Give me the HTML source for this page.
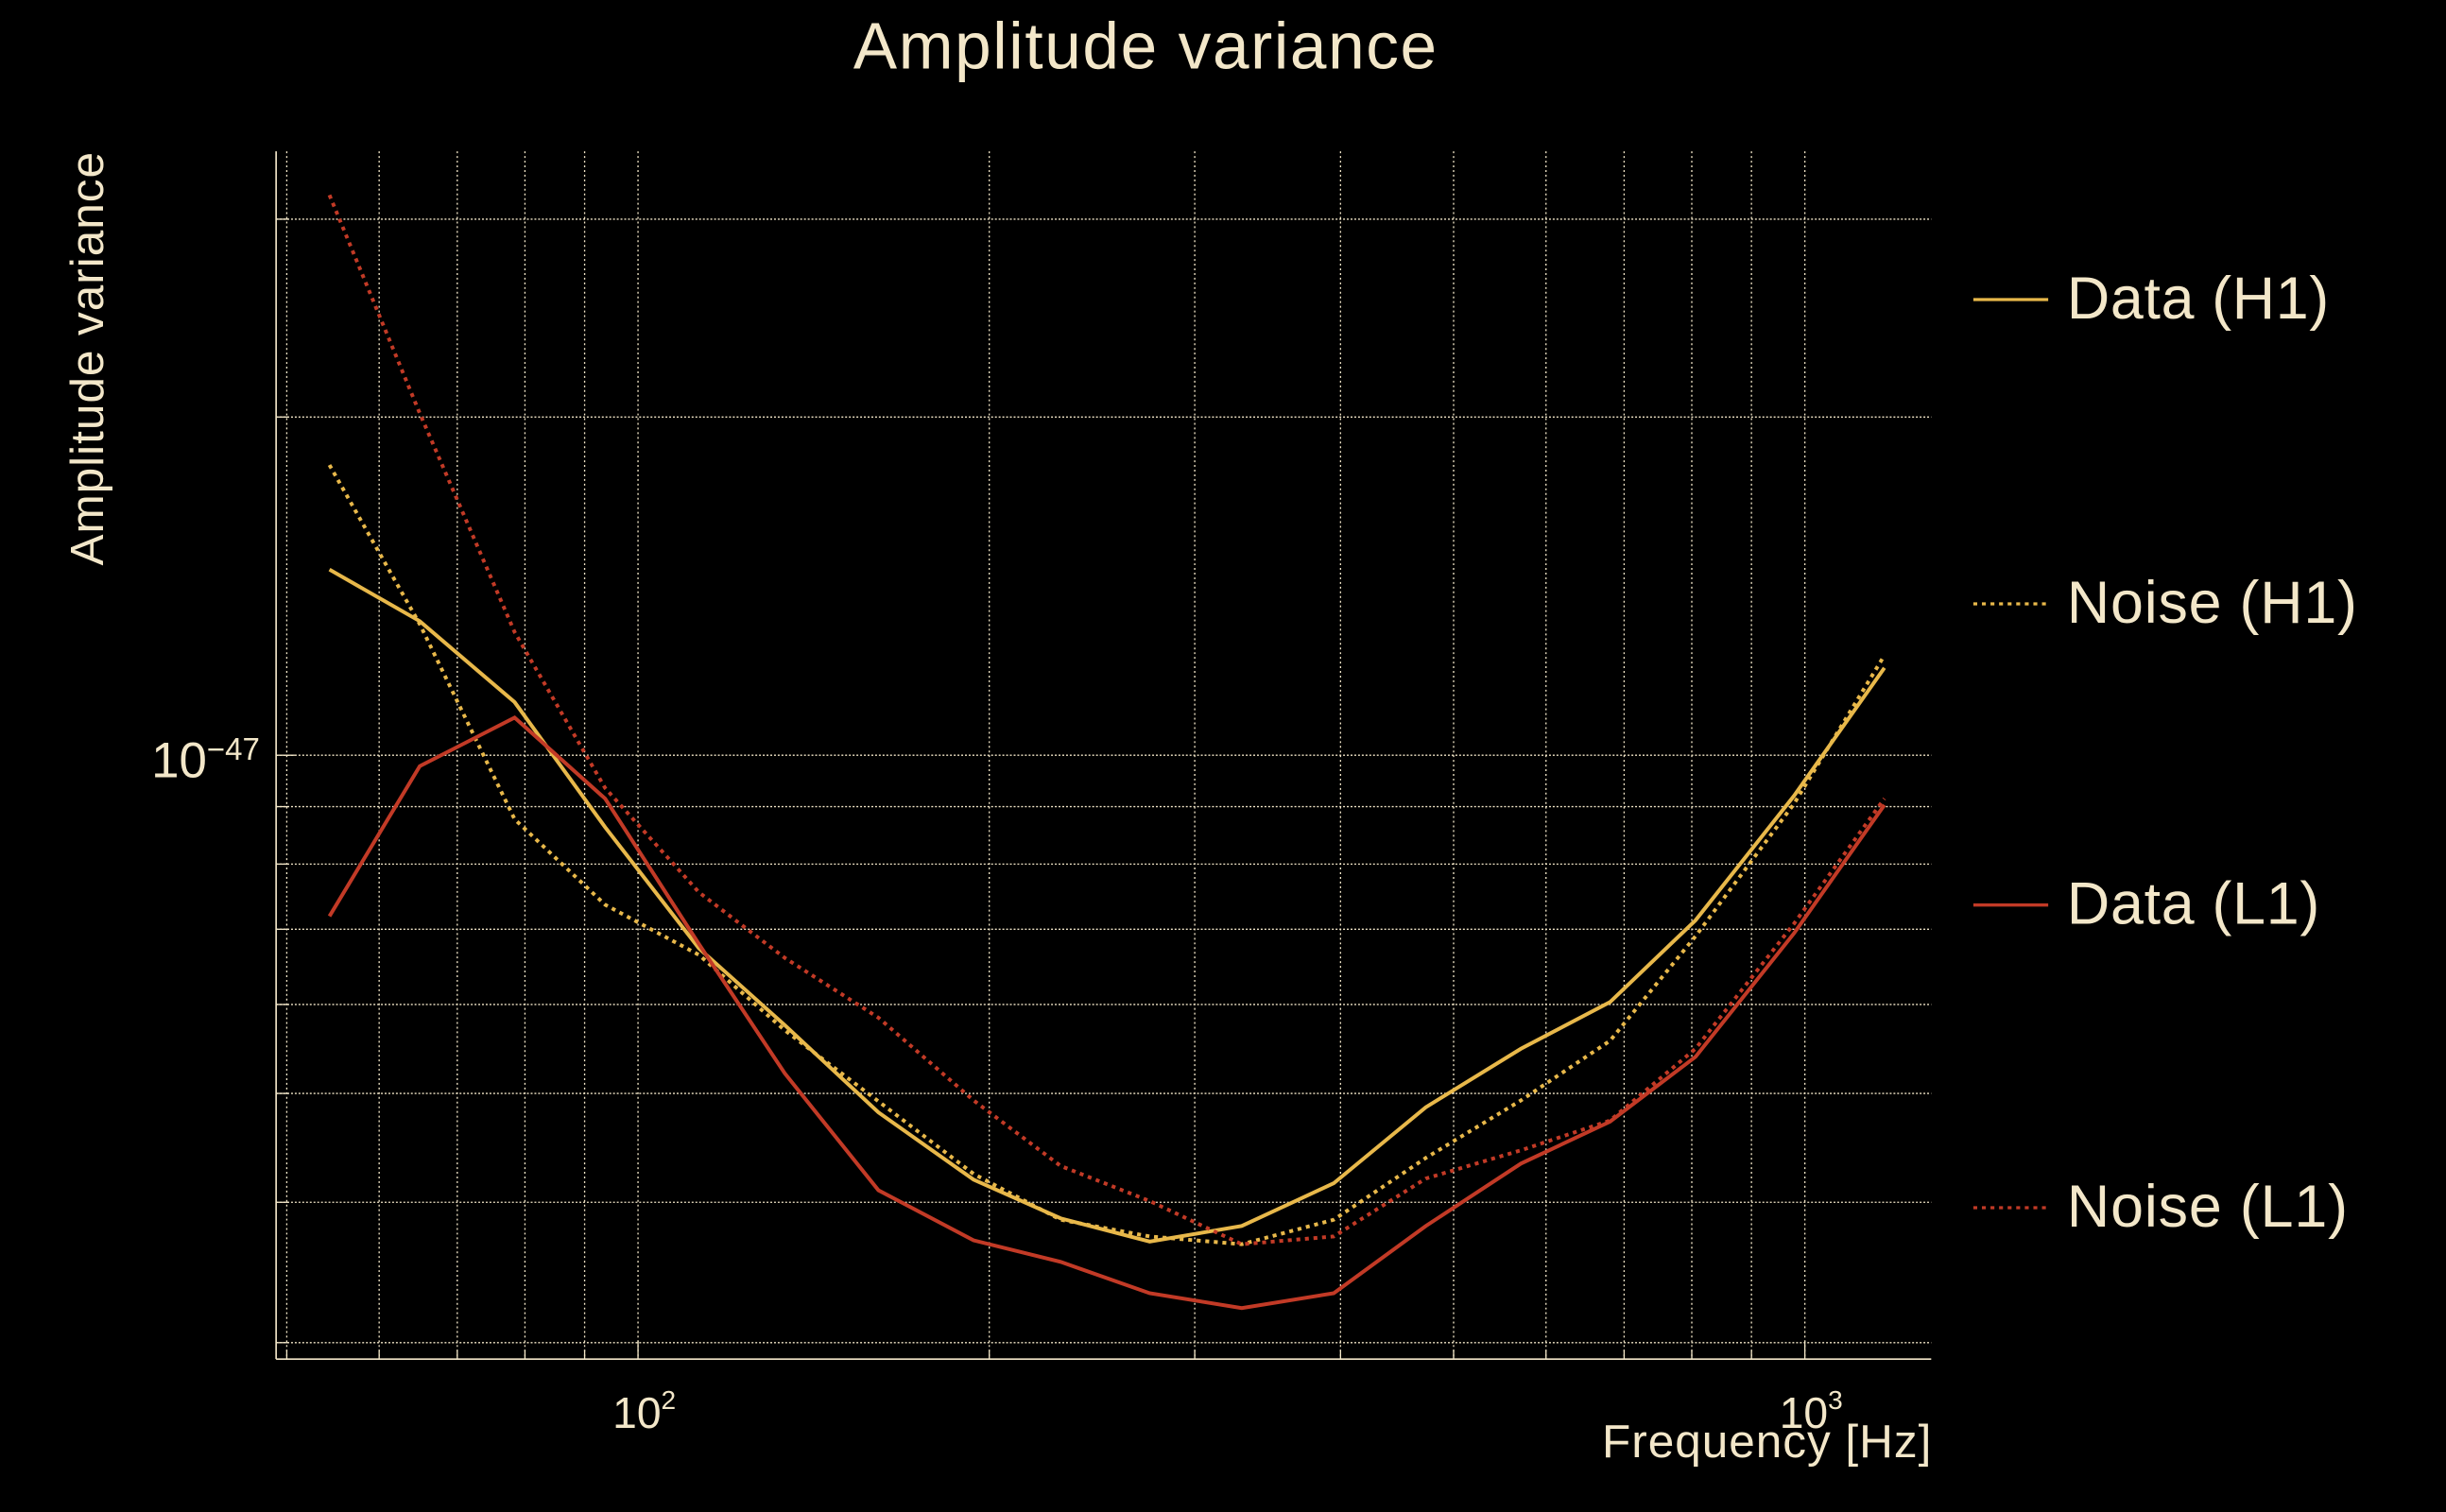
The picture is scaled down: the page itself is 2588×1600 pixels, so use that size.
<!DOCTYPE html>
<html><head><meta charset="utf-8"><style>
html,body{margin:0;padding:0;background:#000;}
svg{display:block;}
text{font-family:"Liberation Sans",sans-serif;fill:#f3e7c9;}
</style></head><body>
<svg id="chart" width="2588" height="1600" viewBox="0 0 1568 969" preserveAspectRatio="none" xmlns="http://www.w3.org/2000/svg">
<rect width="1568" height="969" fill="#000"/>
<text x="734" y="44" font-size="42" text-anchor="middle" textLength="374">Amplitude variance</text>
<text transform="translate(66,230) rotate(-90)" font-size="30" text-anchor="middle" textLength="265">Amplitude variance</text>
<text x="1238" y="934" font-size="30" text-anchor="end" textLength="211">Frequency [Hz]</text>
<g id="grid"></g>
<g id="series"></g>
<g id="axes"></g>
<g id="legend"></g>
</svg>
<script>
const freqs = [54.4,65.0,78.4,93.7,112.8,133.6,160.7,193.9,230.2,274.5,329.1,394.7,473.3,571,680.7,806,978.6,1170];
// values in units of 1e-48
const dataH1 = [14.63,13.16,11.15,8.63,6.73,5.75,4.81,4.19,3.87,3.69,3.81,4.16,4.86,5.48,6.03,7.13,9.20,11.96];
const noiseH1 = [18.13,13.08,8.77,7.36,6.64,5.69,4.92,4.24,3.86,3.73,3.67,3.86,4.38,4.93,5.57,6.90,9.05,12.27];
const dataL1 = [7.19,9.78,10.80,9.15,6.79,5.21,4.10,3.70,3.54,3.32,3.22,3.32,3.81,4.33,4.72,5.39,6.94,9.03];
const noiseL1 = [31.52,20.15,12.87,9.35,7.55,6.60,5.84,4.93,4.31,4.01,3.67,3.73,4.20,4.45,4.73,5.48,7.08,9.15];
const xGridVals = [50,60,70,80,90,100,200,300,400,500,600,700,800,900,1000];
const yGridVals = [3,4,5,6,7,8,9,10,20,30];
const seriesNames = ['Data (H1)','Noise (H1)','Data (L1)','Noise (L1)'];

const NS='http://www.w3.org/2000/svg';
const L=177,R=1238,T=97,B=871;
function xs(f){return 409+748*Math.log10(f/100);}
function ys(v){return 484-720*Math.log10(v/10);}
function mk(tag,attrs,parent){const e=document.createElementNS(NS,tag);for(const k in attrs)e.setAttribute(k,attrs[k]);parent.appendChild(e);return e;}
const grid=document.getElementById('grid'),axes=document.getElementById('axes'),ser=document.getElementById('series'),leg=document.getElementById('legend');
xGridVals.forEach(f=>{const x=xs(f);
 const l=mk('line',{x1:x,x2:x,y1:T,y2:B,stroke:'#f3e7c9','stroke-width':0.8,'stroke-dasharray':'1.2 1.8'},grid);
 
 
 const t=mk('line',{x1:x,x2:x,y1:B,y2:B-(f===100||f===1000?12:6),stroke:'#f3e7c9','stroke-width':0.8},axes);
 
 
});
yGridVals.forEach(v=>{const y=ys(v);
 const l=mk('line',{x1:L,x2:R,y1:y,y2:y,stroke:'#f3e7c9','stroke-width':0.8,'stroke-dasharray':'1.2 1.2'},grid);
 
 
 const t=mk('line',{x1:L,x2:L+(v===10?12:8),y1:y,y2:y,stroke:'#f3e7c9','stroke-width':0.8},axes);
 
 
});
const sp1=mk('line',{x1:L,x2:L,y1:T,y2:B,stroke:'#f3e7c9','stroke-width':1},axes);


const sp2=mk('line',{x1:L,x2:R,y1:B,y2:B,stroke:'#f3e7c9','stroke-width':1},axes);


function tickLabel(x,y,exp,name){const t=mk('text',{x:x,y:y,'font-size':28,'text-anchor':'middle'},axes);
 
 
 t.innerHTML='10<tspan dy="-12" font-size="17">'+exp+'</tspan>';}
tickLabel(xs(100)+4,915,'2','x-tick-label-100');
tickLabel(xs(1000)+4,915,'3','x-tick-label-1000');
const yl=mk('text',{x:97,y:ys(10)+14,'font-size':32},axes);


yl.innerHTML='10<tspan dy="-11" font-size="20">\u221247</tspan>';
const styles=[{c:'#e8b84a',d:null},{c:'#e8b84a',d:'2.5 3'},{c:'#c23a26',d:null},{c:'#c23a26',d:'2.5 3'}];
const sdata=[dataH1,noiseH1,dataL1,noiseL1];
const snames=['data-h1-line','noise-h1-line','data-l1-line','noise-l1-line'];
sdata.forEach((arr,i)=>{const pts=arr.map((v,j)=>xs(freqs[j]).toFixed(1)+','+ys(v).toFixed(1)).join(' ');
 const a={points:pts,fill:'none',stroke:styles[i].c,'stroke-width':2.4,'stroke-linejoin':'miter'};
 if(styles[i].d)a['stroke-dasharray']=styles[i].d;
 const p=mk('polyline',a,ser);
 
 
});
const legY=[190,385,578,772];
const legW=[168,186,162,180];
seriesNames.forEach((n,i)=>{const y=legY[i];
 const a={x1:1265,x2:1313,y1:y+2,y2:y+2,stroke:styles[i].c,'stroke-width':2};
 if(styles[i].d)a['stroke-dasharray']=styles[i].d;
 const l=mk('line',a,leg);
 
 
 const t=mk('text',{x:1325,y:y+14,'font-size':38,textLength:legW[i]},leg);
 t.textContent=n;
 
 
});
</script>
</body></html>
